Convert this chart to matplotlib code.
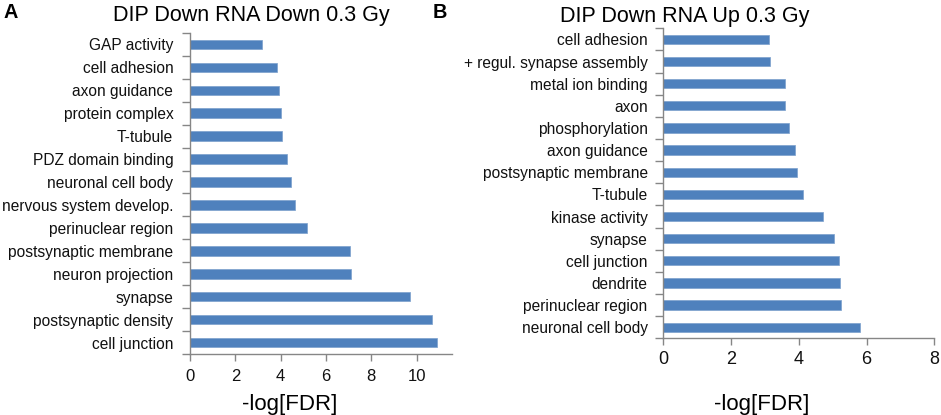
import matplotlib
matplotlib.use("Agg")
import matplotlib.pyplot as plt
import numpy as np

# ---- data ----
cats_a = ["GAP activity", "cell adhesion", "axon guidance", "protein complex", "T-tubule",
          "PDZ domain binding", "neuronal cell body", "nervous system develop.",
          "perinuclear region", "postsynaptic membrane", "neuron projection", "synapse",
          "postsynaptic density", "cell junction"]
vals_a = [3.19, 3.85, 3.91, 4.00, 4.04, 4.26, 4.46, 4.63, 5.16, 7.06, 7.10, 9.73, 10.69, 10.91]

cats_b = ["cell adhesion", "+ regul. synapse assembly", "metal ion binding", "axon",
          "phosphorylation", "axon guidance", "postsynaptic membrane", "T-tubule",
          "kinase activity", "synapse", "cell junction", "dendrite", "perinuclear region",
          "neuronal cell body"]
vals_b = [3.11, 3.14, 3.59, 3.59, 3.72, 3.90, 3.94, 4.11, 4.72, 5.05, 5.20, 5.22, 5.26, 5.80]

title_a = "DIP Down RNA Down 0.3 Gy"
title_b = "DIP Down RNA Up 0.3 Gy"
xlabel = "-log[FDR]"
xticks_a = [0, 2, 4, 6, 8, 10]
xticks_b = [0, 2, 4, 6, 8]

# ---- style ----
BAR = "#4F81BD"
AX = "#868686"
FONT = ["Liberation Sans", "DejaVu Sans"]

W, H = 941, 415
fig = plt.figure(figsize=(W / 100, H / 100), dpi=100)


def panel(rect, cats, vals, xticks, xmax, ypad, xpad, xfs):
    ax = fig.add_axes(rect)
    y = np.arange(len(cats))
    ax.barh(y, vals, height=0.42, color=BAR, edgecolor="#7BA0CD", linewidth=0.5)
    ax.set_ylim(len(cats) - 0.5, -0.5)
    ax.set_xlim(0, xmax)
    ax.set_yticks(y)
    ax.set_yticklabels(cats, fontfamily=FONT, fontsize=11.2, color="#111111")
    ax.set_yticks(np.arange(len(cats) + 1) - 0.5, minor=True)
    ax.tick_params(axis="y", which="major", length=0, pad=ypad)
    ax.tick_params(axis="y", which="minor", length=6, color=AX, width=1, direction="out")
    ax.set_xticks(xticks)
    ax.set_xticklabels([str(t) for t in xticks], fontfamily=FONT, fontsize=xfs, color="#111111")
    ax.tick_params(axis="x", length=5, color=AX, width=1, direction="out", pad=xpad)
    for s in ["top", "right"]:
        ax.spines[s].set_visible(False)
    for s in ["left", "bottom"]:
        ax.spines[s].set_color(AX)
        ax.spines[s].set_linewidth(1)
    return ax


def px(l, t, r, b):
    return [l / W, 1 - b / H, (r - l) / W, (b - t) / H]


axa = panel(px(190, 33, 451.7, 354), cats_a, vals_a, xticks_a, 11.55, 12, 5.5, 12)
axb = panel(px(663.3, 28.3, 934.3, 338.3), cats_b, vals_b, xticks_b, 8, 11.2, 4.5, 13)

fig.text(251 / W, 1 - 21 / H, title_a, ha="center", va="baseline", fontsize=15.5, fontfamily=FONT)
fig.text(685 / W, 1 - 22 / H, title_b, ha="center", va="baseline", fontsize=15.5, fontfamily=FONT)
fig.text(290 / W, 1 - 410 / H, xlabel, ha="center", va="baseline", fontsize=16, fontfamily=FONT)
fig.text(762 / W, 1 - 410 / H, xlabel, ha="center", va="baseline", fontsize=16, fontfamily=FONT)
fig.text(3 / W, 1 - 18.3 / H, "A", ha="left", va="baseline", fontsize=14.3, fontweight="bold", fontfamily=FONT)
fig.text(433 / W, 1 - 18.3 / H, "B", ha="left", va="baseline", fontsize=14.3, fontweight="bold", fontfamily=FONT)

fig.savefig("out.png", dpi=100)
